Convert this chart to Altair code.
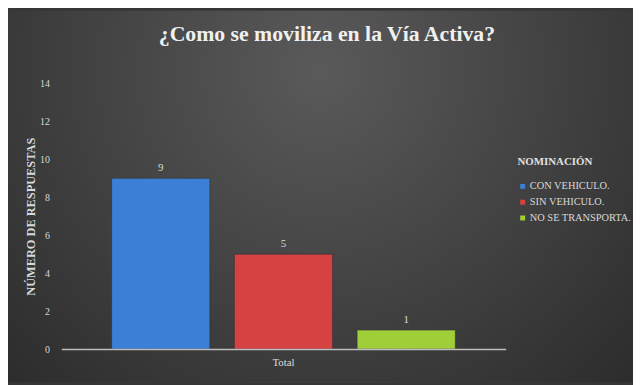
import altair as alt
import pandas as pd

categories = ["CON VEHICULO.", "SIN VEHICULO.", "NO SE TRANSPORTA."]
values = [9, 5, 1]
group = ["Total", "Total", "Total"]
colors = ["#3b7fd6", "#d64242", "#9fce38"]
y_ticks = [0, 2, 4, 6, 8, 10, 12, 14]

df = pd.DataFrame({"grupo": group, "nominacion": categories, "respuestas": values})
bg = pd.DataFrame({"k": [0]})

W, H = 450, 269
PL, PT, PR, PB = 54, 74, 129, 34
FONT = "Liberation Serif"

background = alt.Chart(bg).mark_rect(
    fill={
        "gradient": "radial",
        "stops": [
            {"offset": 0, "color": "#5a5a5a"},
            {"offset": 1, "color": "#262626"},
        ],
        "x1": 0.5, "y1": 0.3, "r1": 0,
        "x2": 0.5, "y2": 0.3, "r2": 0.8,
    },
    clip=False,
).encode(
    x=alt.value(-PL), x2=alt.value(W + PR),
    y=alt.value(-PT), y2=alt.value(H + PB),
)

xenc = alt.X("grupo:N", title=None,
             scale=alt.Scale(paddingInner=0, paddingOuter=0),
             axis=alt.Axis(labelAngle=0, ticks=False, domainColor="#bdbdbd",
                           domainWidth=1.5, labelColor="#d9d9d9", labelFont=FONT,
                           labelFontSize=11, labelPadding=8, zindex=1))
xoff = alt.XOffset("nominacion:N", sort=categories,
                   scale=alt.Scale(paddingInner=0.2, paddingOuter=0.41))
yenc = alt.Y("respuestas:Q", title="NÚMERO DE RESPUESTAS",
             scale=alt.Scale(domain=[0, 14], nice=False),
             axis=alt.Axis(values=y_ticks, tickCount=8, grid=False, domain=False,
                           ticks=False, labelColor="#d9d9d9", labelFont=FONT,
                           labelFontSize=10, labelPadding=12, labelOverlap=False,
                           labelBound=False,
                           titleColor="#d9d9d9", titleFont=FONT, titleFontSize=12.5,
                           titleFontWeight="bold", titlePadding=2, zindex=1))

bars = alt.Chart(df).mark_bar(strokeWidth=1, stroke="#2a2a2a", strokeOpacity=0.5).encode(
    x=xenc, xOffset=xoff, y=yenc,
    color=alt.Color("nominacion:N", sort=categories,
                    scale=alt.Scale(domain=categories, range=colors),
                    legend=alt.Legend(title="NOMINACIÓN", orient="none",
                                      legendX=462, legendY=74,
                                      titleFont=FONT, titleFontSize=11,
                                      titleFontWeight="bold", titleColor="#e0e0e0",
                                      titlePadding=14,
                                      labelFont=FONT, labelFontSize=10.5,
                                      labelColor="#d9d9d9", symbolType="square",
                                      symbolSize=25, symbolStrokeWidth=0,
                                      rowPadding=5, labelOffset=2, zindex=1)),
)

labels = alt.Chart(df).mark_text(dy=-10, font=FONT, fontSize=11, color="#d9d9d9").encode(
    x=xenc, xOffset=xoff, y=yenc, text="respuestas:Q",
)

chart = alt.layer(background, bars, labels).properties(
    width=W, height=H,
    autosize=alt.AutoSizeParams(type="none"),
    padding={"left": PL, "top": PT, "right": PR, "bottom": PB},
    background="#363636",
    title=alt.TitleParams("¿Como se moviliza en la Vía Activa?", font=FONT, fontSize=22,
                          fontWeight="bold", color="#f0f0f0", anchor="middle",
                          frame="group", dx=44, offset=-36, zindex=1),
).configure_view(stroke=None)

chart.save("out.html", embed_options={"renderer": "svg", "actions": False})
